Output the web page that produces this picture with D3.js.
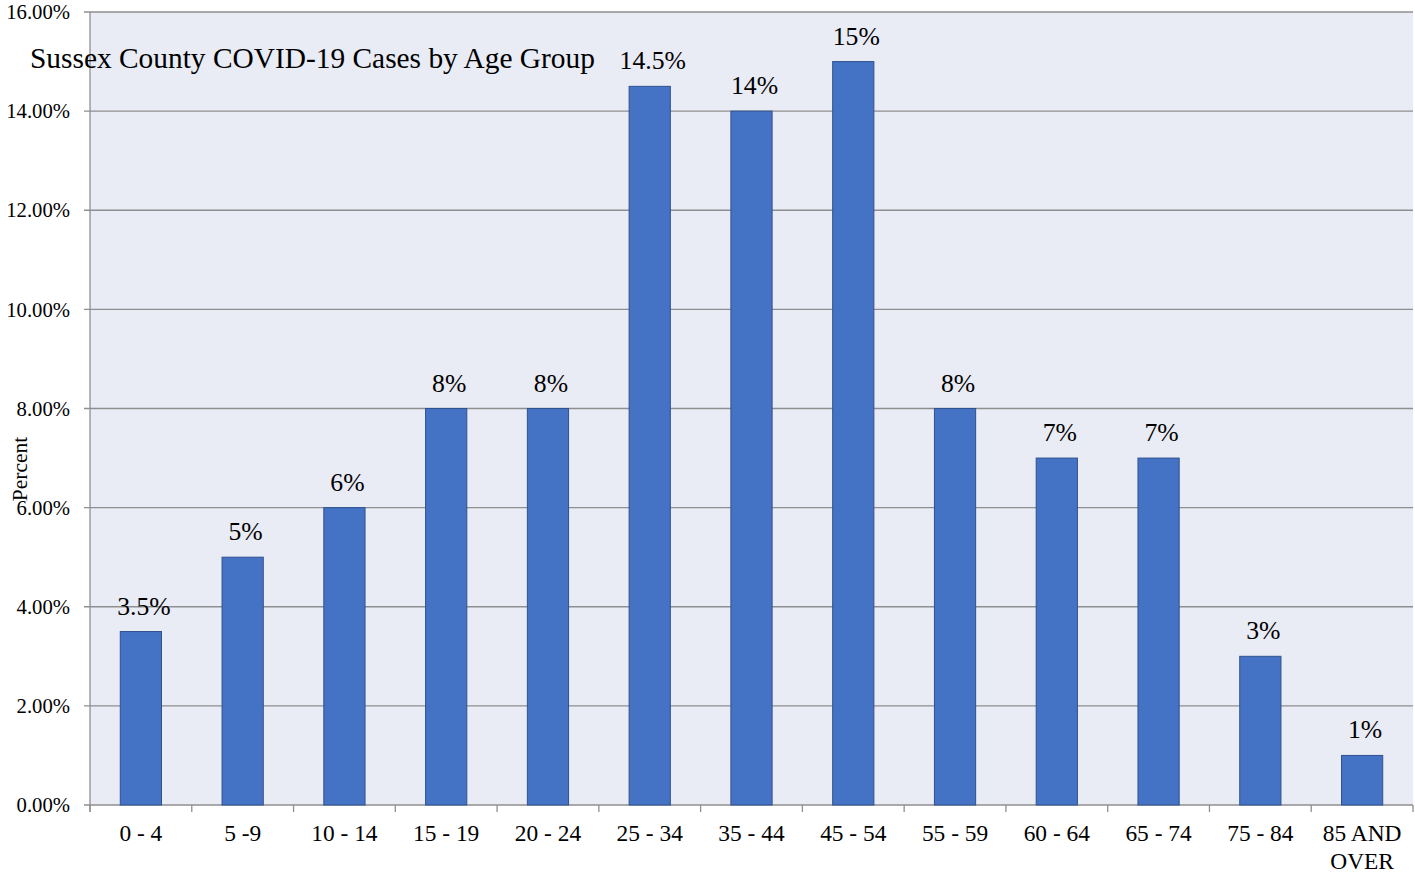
<!DOCTYPE html>
<html><head><meta charset="utf-8">
<script src="https://cdn.jsdelivr.net/npm/d3@7/dist/d3.min.js"></script>
<style>body{margin:0;background:#fff;} svg{display:block;font-family:"Liberation Serif","Times New Roman",serif;}</style>
</head><body>
<svg id="chart" width="1415" height="877"></svg>
<script>
const categories = ["0 - 4","5 -9","10 - 14","15 - 19","20 - 24","25 - 34","35 - 44","45 - 54","55 - 59","60 - 64","65 - 74","75 - 84","85 AND OVER"];
const values = [3.5,5,6,8,8,14.5,14,15,8,7,7,3,1];
const valueLabels = ["3.5%","5%","6%","8%","8%","14.5%","14%","15%","8%","7%","7%","3%","1%"];
const yTicks = [0,2,4,6,8,10,12,14,16];
const title = "Sussex County COVID-19 Cases by Age Group";
const yTitle = "Percent";

const svg = d3.select("#chart");
const m = {left:90, right:1413, top:12, bottom:805};
const x = d3.scaleBand().domain(categories).range([m.left, m.right]).paddingInner(0.595).paddingOuter(0.2975);
const y = d3.scaleLinear().domain([0,16]).range([m.bottom, m.top]);

svg.append("rect").attr("x",m.left).attr("y",m.top).attr("width",m.right-m.left).attr("height",m.bottom-m.top).attr("fill","#e9ebf5");

// gridlines
svg.append("g").selectAll("line").data(yTicks).join("line")
  .attr("x1",m.left-6).attr("x2",m.right).attr("y1",d=>y(d)).attr("y2",d=>y(d))
  .attr("stroke","#8f8f8f").attr("stroke-width",1.3);

// y labels
svg.append("g").selectAll("text").data(yTicks).join("text")
  .attr("x",70).attr("y",d=>y(d)).attr("dy","0.35em").attr("text-anchor","end")
  .attr("font-size",20.7).attr("fill","#000").text(d=>d.toFixed(2)+"%");

// left axis line
svg.append("line").attr("x1",m.left).attr("x2",m.left).attr("y1",m.top).attr("y2",m.bottom+7).attr("stroke","#8f8f8f").attr("stroke-width",1.3);

// x ticks at band boundaries
const bounds = d3.range(categories.length+1).map(i=>m.left+i*(m.right-m.left)/categories.length);
svg.append("g").selectAll("line").data(bounds).join("line")
  .attr("x1",d=>d).attr("x2",d=>d).attr("y1",m.bottom).attr("y2",m.bottom+7)
  .attr("stroke","#8f8f8f").attr("stroke-width",1.3);

// bars
svg.append("g").selectAll("rect").data(values).join("rect")
  .attr("x",(d,i)=>x(categories[i])).attr("width",x.bandwidth())
  .attr("y",d=>y(d)).attr("height",d=>y(0)-y(d))
  .attr("fill","#4472c4").attr("stroke","#2f528f").attr("stroke-width",1);

// value labels
svg.append("g").selectAll("text").data(values).join("text")
  .attr("x",(d,i)=>x(categories[i])+x.bandwidth()/2+3).attr("y",d=>y(d)-17)
  .attr("text-anchor","middle").attr("font-size",25.7).attr("fill","#000")
  .text((d,i)=>valueLabels[i]);

// category labels
const cl = svg.append("g").selectAll("text").data(categories).join("text")
  .attr("x",d=>x(d)+x.bandwidth()/2).attr("y",841)
  .attr("text-anchor","middle").attr("font-size",23.4).attr("fill","#000");
cl.each(function(d){
  const t = d3.select(this);
  if (d === "85 AND OVER") {
    t.append("tspan").attr("x",x(d)+x.bandwidth()/2).text("85 AND");
    t.append("tspan").attr("x",x(d)+x.bandwidth()/2).attr("dy",28).text("OVER");
  } else t.text(d);
});

// title
svg.append("text").attr("x",30).attr("y",68).attr("font-size",29.4).attr("fill","#000").text(title);

// y axis title
svg.append("text").attr("transform","translate(27,469) rotate(-90)").attr("text-anchor","middle")
  .attr("font-size",21.5).attr("fill","#000").text(yTitle);
</script>
</body></html>
